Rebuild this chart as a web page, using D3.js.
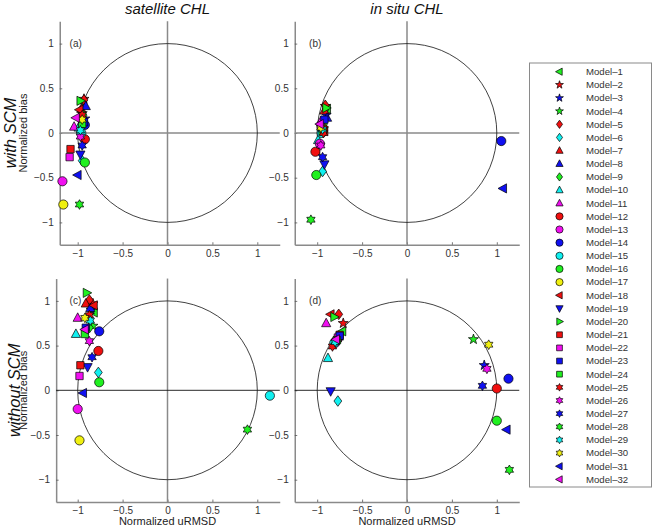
<!DOCTYPE html>
<html>
<head>
<meta charset="utf-8">
<script src="https://cdn.jsdelivr.net/npm/d3@7"></script>
<style>
  body { margin: 0; background: #fff; }
  svg { font-family: "Liberation Sans", Arial, sans-serif; }
</style>
</head>
<body>
<script>
// categories
const models = ['Model–1','Model–2','Model–3','Model–4','Model–5','Model–6','Model–7','Model–8',
  'Model–9','Model–10','Model–11','Model–12','Model–13','Model–14','Model–15','Model–16',
  'Model–17','Model–18','Model–19','Model–20','Model–21','Model–22','Model–23','Model–24',
  'Model–25','Model–26','Model–27','Model–28','Model–29','Model–30','Model–31','Model–32'];

const columnTitles = ['satellite CHL', 'in situ CHL'];
const rowTitles = ['with SCM', 'without SCM'];
const panelLabels = ['(a)', '(b)', '(c)', '(d)'];
const tickValues = [-1, -0.5, 0, 0.5, 1];

// (a) satellite CHL, with SCM
const satWithX = [-0.94,-0.93,-0.92,-0.95,-0.93,-0.95,-0.96,-0.91,-0.94,-0.99,-1.04,-0.92,-1.17,-0.92,-0.96,-0.92,
  -1.16,-0.98,-0.97,-0.97,-1.08,-1.09,-0.93,-0.95,-0.95,-0.97,-0.95,-0.98,-0.97,-0.95,-1.00,-1.02];
const satWithY = [0.35,0.38,0.16,0.22,0.37,-0.31,0.27,0.30,0.20,0.06,0.07,-0.07,-0.54,0.09,0.00,-0.33,
  -0.80,0.26,-0.24,0.36,-0.18,-0.27,0.12,0.10,0.20,-0.04,-0.14,-0.80,0.03,0.15,-0.47,0.17];
// (b) in situ CHL, with SCM
const insWithX = [-0.89,-0.91,-0.90,-0.93,-0.91,-0.94,-0.92,-0.89,-0.93,-0.99,-0.96,-1.02,-0.97,1.05,-0.95,-1.01,
  -0.95,-0.92,-0.92,-0.90,-0.93,-0.96,-0.92,-0.94,-0.93,-0.96,-0.94,-1.07,-0.94,-0.96,1.07,-0.97];
const insWithY = [0.27,0.30,0.20,0.05,0.31,-0.43,0.25,0.17,0.10,-0.08,0.13,-0.21,-0.12,-0.09,0.00,-0.47,
  0.07,0.02,-0.35,0.28,0.04,0.08,0.15,0.02,0.00,-0.14,-0.27,-0.97,0.04,0.06,-0.62,0.10];
// (c) satellite CHL, without SCM
const satWithoutX = [-0.82,-0.83,-0.85,-0.83,-0.87,-0.77,-0.91,-0.86,-0.87,-1.02,-1.00,-0.77,-1.00,-0.76,1.14,-0.76,
  -0.98,-0.82,-0.89,-0.90,-0.97,-0.98,-0.91,-0.92,-0.87,-0.87,-0.84,0.89,-0.86,-0.92,-0.94,-0.92];
const satWithoutY = [0.87,0.97,0.90,0.72,1.01,0.20,0.97,0.92,0.70,0.63,0.81,0.44,-0.21,0.66,-0.06,0.09,
  -0.56,0.95,0.26,1.09,0.28,0.16,0.70,0.63,0.84,0.55,0.37,-0.44,0.78,0.81,-0.03,0.68];
// (d) in situ CHL, without SCM
const insWithoutX = [-0.72,-0.71,0.86,0.74,-0.76,-0.77,-0.78,-0.76,-0.79,-0.88,-0.90,1.00,-0.80,1.13,-0.81,1.00,
  -0.78,-0.85,-0.85,-0.81,-0.75,-0.77,-0.75,-0.78,-0.83,0.89,0.84,1.14,-0.80,0.91,1.11,-0.79];
const insWithoutY = [0.66,0.75,0.28,0.57,0.85,-0.12,0.58,0.60,0.55,0.36,0.75,0.02,0.53,0.13,0.53,-0.34,
  0.57,0.85,-0.01,0.82,0.62,0.59,0.61,0.56,0.49,0.24,0.05,-0.89,0.54,0.51,-0.44,0.57];

// marker style per model (MATLAB-like)
const modelShape = ['left','pent','pent','pent','diamond','diamond','up','up','diamond','up','up',
  'circle','circle','circle','circle','circle','circle','left','down','right',
  'square','square','square','square','hex','hex','hex','hex','hex','hex','left','left'];
const C = {r:'#f01010', g:'#20f020', b:'#1010f0', c:'#10f0f0', m:'#f010f0', y:'#f0f010'};
const modelColor = [C.g,C.r,C.b,C.g,C.r,C.c,C.r,C.b,C.g,C.c,C.m,C.r,C.m,C.b,C.c,C.g,
  C.y,C.r,C.b,C.g,C.r,C.m,C.b,C.g,C.r,C.m,C.b,C.g,C.c,C.y,C.b,C.m];

function polyType(pts) {
  return { draw(ctx, r) {
    pts.forEach(([x, y], i) => i ? ctx.lineTo(x * r, y * r) : ctx.moveTo(x * r, y * r));
    ctx.closePath();
  }};
}
function starType(n, outer, inner) {
  const pts = [];
  for (let i = 0; i < 2 * n; i++) {
    const a = -Math.PI / 2 + i * Math.PI / n;
    const rr = i % 2 ? inner : outer;
    pts.push([rr * Math.cos(a), rr * Math.sin(a)]);
  }
  return polyType(pts);
}
const shapes = {
  circle: { draw(ctx, r) { ctx.moveTo(r, 0); ctx.arc(0, 0, r, 0, 2 * Math.PI); } },
  up: polyType([[0,-1.1],[1,0.75],[-1,0.75]]),
  down: polyType([[0,1.1],[1,-0.75],[-1,-0.75]]),
  left: polyType([[-1.1,0],[0.75,-1],[0.75,1]]),
  right: polyType([[1.1,0],[-0.75,-1],[-0.75,1]]),
  diamond: polyType([[0,-1.15],[0.85,0],[0,1.15],[-0.85,0]]),
  square: polyType([[-0.8,-0.8],[0.8,-0.8],[0.8,0.8],[-0.8,0.8]]),
  pent: starType(5, 1.15, 0.46),
  hex: starType(6, 1.05, 0.6)
};

const W = 653, H = 527;
const svg = d3.select('body').append('svg').attr('width', W).attr('height', H);

const panels = [
  {xs: satWithX, ys: satWithY, col: 0, row: 0, xd: [-1.2, 1.25]},
  {xs: insWithX, ys: insWithY, col: 1, row: 0, xd: [-1.25, 1.25]},
  {xs: satWithoutX, ys: satWithoutY, col: 0, row: 1, xd: [-1.24, 1.25]},
  {xs: insWithoutX, ys: insWithoutY, col: 1, row: 1, xd: [-1.25, 1.25]}
];
const colCenter = [167.5, 407], rowCenter = [133, 390.3], unitX = 89.8, unitY = 89.4;

panels.forEach((p, pi) => {
  const x = d3.scaleLinear().domain(p.xd)
    .range(p.xd.map(v => colCenter[p.col] + unitX * v));
  const y = d3.scaleLinear().domain([-1.25, 1.25])
    .range([-1.25, 1.25].map(v => rowCenter[p.row] - unitY * v));
  const g = svg.append('g');

  // axes
  const xAxis = g.append('g').attr('transform', `translate(0,${y(-1.25)})`)
    .call(d3.axisBottom(x).tickValues(tickValues).tickSizeInner(-2.5).tickSizeOuter(0).tickPadding(5)
      .tickFormat(d => d3.format('')(d).replace('-', '−')));
  const yAxis = g.append('g').attr('transform', `translate(${x(p.xd[0])},0)`)
    .call(d3.axisLeft(y).tickValues(tickValues).tickSizeInner(-2.5).tickSizeOuter(0).tickPadding(6)
      .tickFormat(d => d3.format('')(d).replace('-', '−')));
  [xAxis, yAxis].forEach(a => {
    a.select('.domain').attr('stroke', '#8a8a8a').attr('stroke-width', 1.5);
    a.selectAll('.tick line').attr('stroke', '#555').attr('stroke-width', 0.8);
    a.selectAll('.tick text').attr('fill', '#333').style('font-size', '10px')
      .style('font-family', '"Liberation Sans", Arial, sans-serif');
  });

  // zero lines
  g.append('line').attr('x1', x(0)).attr('x2', x(0)).attr('y1', y(-1.25)).attr('y2', y(1.25))
    .attr('stroke', '#8a8a8a').attr('stroke-width', 1.5);
  g.append('line').attr('x1', x(p.xd[0])).attr('x2', x(p.xd[1])).attr('y1', y(0)).attr('y2', y(0))
    .attr('stroke', p.row === 0 ? '#8a8a8a' : '#111').attr('stroke-width', p.row === 0 ? 1.5 : 0.9);

  // unit circle
  g.append('ellipse').attr('cx', x(0)).attr('cy', y(0))
    .attr('rx', x(1) - x(0)).attr('ry', y(0) - y(1))
    .attr('fill', 'none').attr('stroke', '#111').attr('stroke-width', 0.8);

  g.append('text').attr('x', x(-1.09)).attr('y', y(1)).attr('dy', '0.35em')
    .attr('fill', '#333').style('font-size', '10px').text(panelLabels[pi]);

  // markers
  g.selectAll('path.mk').data(models).join('path').attr('class', 'mk')
    .attr('transform', (d, i) => `translate(${x(p.xs[i])},${y(p.ys[i])})`)
    .attr('d', (d, i) => d3.symbol().type(shapes[modelShape[i]]).size(4.6)())
    .attr('fill', (d, i) => modelColor[i])
    .attr('stroke', '#000').attr('stroke-width', 0.7);

  if (p.col === 0) {
    svg.append('text').attr('transform', `translate(27,${rowCenter[p.row]}) rotate(-90)`)
      .attr('text-anchor', 'middle').attr('fill', '#222').style('font-size', '11px')
      .text('Normalized bias');
    svg.append('text')
      .attr('transform', `translate(${p.row === 0 ? 16 : 20},${rowCenter[p.row]}) rotate(-90)`)
      .attr('text-anchor', 'middle').attr('fill', '#111').style('font-size', '16.5px')
      .style('font-style', 'italic').text(rowTitles[p.row]);
  }
  if (p.row === 0) {
    svg.append('text').attr('x', x(0)).attr('y', 14).attr('text-anchor', 'middle')
      .attr('fill', '#111').style('font-size', '15px').style('font-style', 'italic')
      .text(columnTitles[p.col]);
  } else {
    svg.append('text').attr('x', x(0)).attr('y', 525).attr('text-anchor', 'middle')
      .attr('fill', '#222').style('font-size', '11px').text('Normalized uRMSD');
  }
});

// legend
const lg = svg.append('g');
lg.append('rect').attr('x', 529.5).attr('y', 63).attr('width', 122).attr('height', 424)
  .attr('fill', '#fff').attr('stroke', '#8a8a8a').attr('stroke-width', 1);
const ly = d3.scaleLinear().domain([0, models.length - 1]).range([71.7, 479.4]);
lg.selectAll('path').data(models).join('path')
  .attr('transform', (d, i) => `translate(559.5,${ly(i)})`)
  .attr('d', (d, i) => d3.symbol().type(shapes[modelShape[i]]).size(3.6)())
  .attr('fill', (d, i) => modelColor[i])
  .attr('stroke', '#000').attr('stroke-width', 0.7);
lg.selectAll('text').data(models).join('text')
  .attr('x', 586).attr('y', (d, i) => ly(i)).attr('dy', '0.35em')
  .attr('fill', '#333').style('font-size', '9.6px').text(d => d);
</script>
</body>
</html>
